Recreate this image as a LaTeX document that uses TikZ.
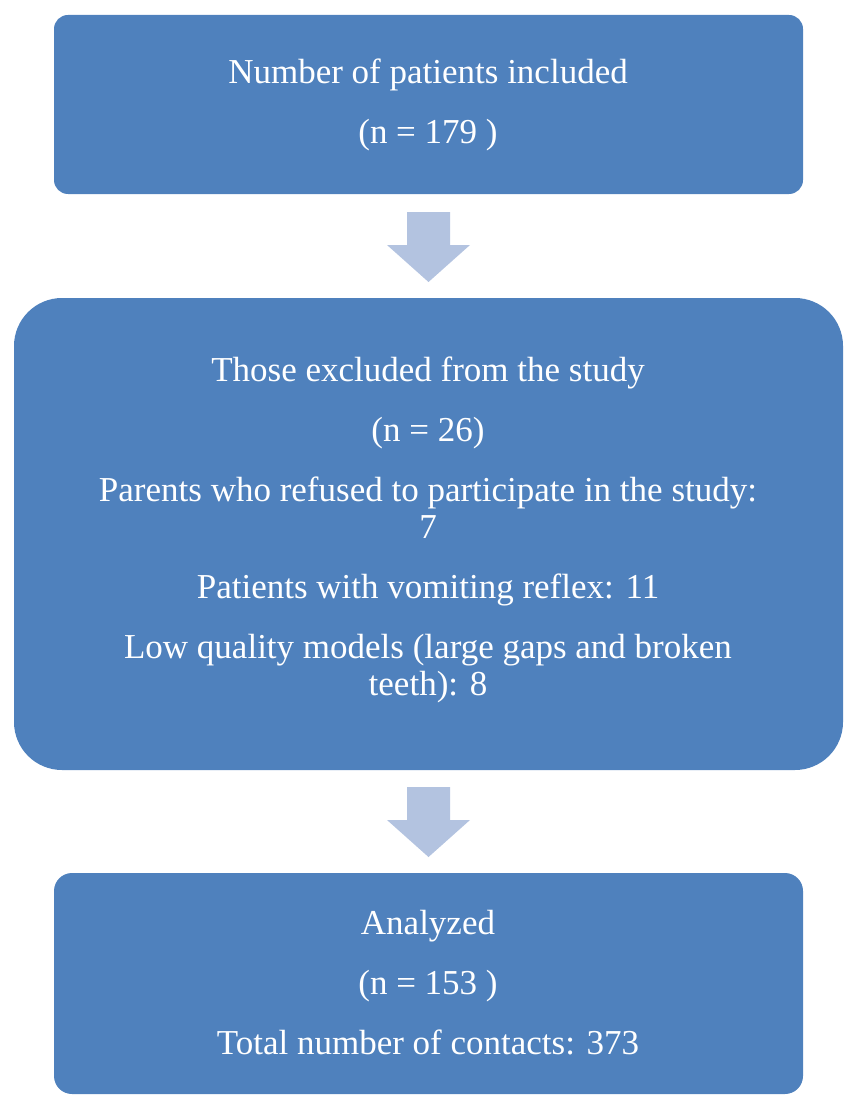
\documentclass[tikz,border=0pt]{standalone}
\usepackage{fontspec}
\setmainfont{Liberation Serif}
\begin{document}
\begin{tikzpicture}[x=1pt,y=-1pt,
  box/.style={draw=none,fill=boxblue},
  txt/.style={text=white,align=center,font=\fontsize{35}{37}\selectfont,inner sep=0pt},
  arr/.style={fill=arrowblue,draw=none}]
\definecolor{boxblue}{HTML}{4F81BD}
\definecolor{arrowblue}{HTML}{B3C3E0}
\useasboundingbox (0,0) rectangle (860,1110);
\fill[box,rounded corners=14] (54,15) rectangle (803,194);
\node[txt] (t1) at (428,105) {Number of patients included\\[23pt](n = 179 )};
\fill[arr] (407,212) -- (450,212) -- (450,245) -- (470,245) -- (428.5,282) -- (387,245) -- (407,245) -- cycle;
\fill[box,rounded corners=48] (14,298) rectangle (843,770);
\node[txt] (t2) at (428,530) {Those excluded from the study\\[23pt](n = 26)\\[23pt]Parents who refused to participate in the study:\\7\\[23pt]Patients with vomiting reflex: 11\\[23pt]Low quality models (large gaps and broken\\teeth): 8};
\fill[arr] (407,787) -- (450,787) -- (450,820) -- (470,820) -- (428.5,857) -- (387,820) -- (407,820) -- cycle;
\fill[box,rounded corners=18] (54,873) rectangle (803,1094);
\node[txt] (t3) at (428,983) {Analyzed\\[23pt](n = 153 )\\[23pt]Total number of contacts: 373};
\end{tikzpicture}
\end{document}
